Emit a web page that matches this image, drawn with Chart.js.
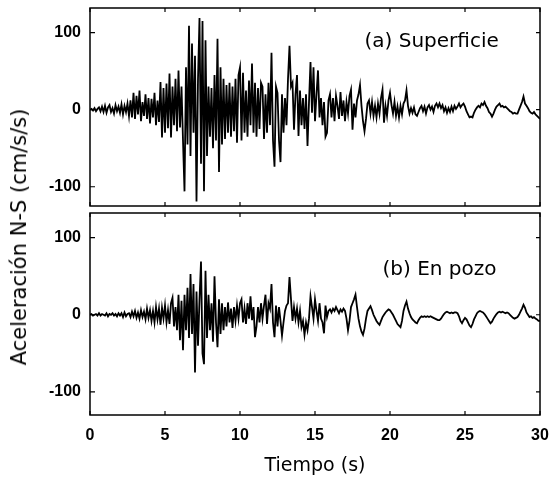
<!DOCTYPE html>
<html><head><meta charset="utf-8">
<script src="https://cdn.jsdelivr.net/npm/chart.js@4/dist/chart.umd.min.js"></script>
<style>
html,body{margin:0;padding:0;background:#fff;}
#wrap{position:relative;width:556px;height:486px;overflow:hidden;background:#fff;}
#boxA{position:absolute;left:0;top:0;width:556px;height:210px;}
#boxB{position:absolute;left:0;top:210px;width:556px;height:276px;}
#ytitle{position:absolute;left:19px;top:237px;transform:translate(-50%,-50%) rotate(-90deg);white-space:nowrap;font:21px "DejaVu Sans",sans-serif;color:#000;}
</style></head><body>
<div id="wrap">
<div id="boxA"><canvas id="cA"></canvas></div>
<div id="boxB"><canvas id="cB"></canvas></div>
<div id="ytitle">Aceleración N-S (cm/s/s)</div>
</div>
<script>
const DT = 0.1; // sampling interval (s)
const X_TICKS = [0, 5, 10, 15, 20, 25, 30];
const Y_TICKS = [-100, 0, 100];
const LABEL_A = '(a) Superficie';
const LABEL_B = '(b) En pozo';
const X_TITLE = 'Tiempo (s)';

// (a) Superficie, cm/s/s, one row per second
const superficie = [
 0, 1, -1, 2, -2, 1, 3, -2, 4, -3,
 5, -4, 3, 6, -3, 2, -5, 6, -2, 4,
 -4, 7, -6, 5, -3, 8, -8, 12, -10, 22,
 -12, 18, -6, 25, -15, 10, -8, 20, -12, 15,
 -18, 14, -10, 22, -20, 12, -16, 36, -36, 28,
 -30, 34, -24, 47, -36, 30, -20, 40, -28, 51,
 -23, 30, -40, -106, 55, -45, 109, -60, 86, -30,
 70, -119, 40, 119, -70, 115, -106, 90, -60, 30,
 -35, 28, -50, 45, -40, 92, -81, 55, -45, 40,
 -38, 32, -30, 35, -35, 30, -28, 40, -43, 45,
 55, -40, 48, -30, 25, -35, 38, -20, 60, -30,
 35, -35, 28, -25, 35, 30, -38, 20, -30, 35,
 -20, 74, -40, -74, 30, 22, -40, -68, 20, -30,
 15, -20, 40, 83, 30, 35, -26, 20, 45, -34,
 25, -20, 15, -25, 20, -47, 10, 62, -4, 55,
 -15, 20, 51, -10, 15, -20, 10, -35, -30, 12,
 20, -10, 15, -15, 18, 5, -12, 23, -8, 12,
 -15, 10, -5, 18, 26, -26, 8, -10, 12, 20,
 32, 5, -15, -28, -12, 8, 12, -5, 10, -8,
 5, -10, 8, -5, 15, 26, -17, 5, -8, 12,
 22, 6, -5, 10, -8, 4, -10, 5, -6, 8,
 12, 25, 5, -5, 2, -4, 3, -6, -8, -3,
 2, 5, -2, 4, -5, 3, 6, 0, 4, -3,
 5, 8, 3, 8, 2, 6, -2, 3, -4, 2,
 -3, 4, -2, 5, 1, 4, 8, 3, 6, 8,
 4, -2, -6, -10, -9, -10, -4, 0, 3, 5,
 3, 8, 6, 10, 5, 2, -3, -5, -9, -5,
 0, 4, 6, 8, 4, 5, 3, 4, 2, 0,
 -2, -3, -5, -4, -5, -5, 0, 5, 10, 17,
 8, 5, 2, -2, -4, -5, -3, -6, -8, -10,
 -12
];

// (b) En pozo, cm/s/s, one row per second
const enPozo = [
 0, 1, -1, 0, 1, -1, 2, -1, 1, 0,
 -1, 2, -2, 1, 0, 2, -1, 1, -2, 2,
 -1, 2, -3, 3, -2, 1, 2, -3, 4, -2,
 5, -4, 3, -5, 6, -3, 4, -6, 8, -4,
 6, -8, 5, -10, 10, -6, 8, -13, 9, -5,
 12, -10, 6, -12, 15, 22, -15, 10, -20, 26,
 -33, 18, -46, 26, -20, 35, -30, 53, -25, 40,
 -75, 30, -40, 20, 69, -50, -64, 57, -30, 26,
 -20, 15, -35, 50, -10, -42, 20, -25, 15, -20,
 10, -15, 16, -10, 8, -17, 10, -8, 12, -5,
 15, 20, -10, 8, -12, 15, -5, 24, -7, 10,
 -29, -15, 10, -10, 15, -5, 12, 26, -12, 15,
 8, 40, -10, -29, 12, -15, 10, -8, -27, -10,
 5, 12, 15, 49, 20, -8, 10, -5, 8, -10,
 5, -16, -8, -26, -10, -20, -5, 24, 10, -5,
 20, 5, -8, 15, -5, -10, -24, 12, -3, 5,
 7, 3, 8, 5, 10, 6, 2, 7, 4, 8,
 5, -5, -20, -8, 10, 15, 20, 26, 10, -5,
 -15, -22, -26, -18, -5, 5, 8, 11, 6, 0,
 -4, -8, -11, -13, -8, -3, 0, 3, 5, 7,
 6, 3, 0, -4, -8, -12, -14, -16, -8, 5,
 12, 17, 8, 2, -3, -6, -8, -10, -11, -7,
 -4, -2, -3, -2, -3, -2, -3, -2, -3, -4,
 -5, -6, -7, -7, -5, -2, 1, 3, 4, 3,
 2, 3, 2, 3, 3, 2, -2, -8, -11, -7,
 -4, -6, -10, -14, -16, -12, -6, -2, 2, 4,
 5, 4, 3, 1, -2, -5, -8, -11, -9, -5,
 -2, 1, 3, 4, 3, 4, 3, 2, 3, 2,
 0, -2, -4, -5, -4, -3, 0, 4, 8, 13,
 9, 3, 0, -3, -2, -4, -3, -5, -6, -8,
 -8
];

const toPoints = arr => arr.map((v, i) => ({x: +(i * DT).toFixed(2), y: v}));

const FONT = '"DejaVu Sans", sans-serif';
const TICK_FONT = '"Liberation Sans Narrow", "Liberation Sans", Arial, sans-serif';

const framePlugin = {
  id: 'frame',
  afterDraw(chart, args, opts) {
    const {ctx, chartArea: a, scales: {x, y}} = chart;
    ctx.save();
    ctx.strokeStyle = '#000';
    ctx.lineWidth = 1.5;
    ctx.strokeRect(a.left, a.top, a.right - a.left, a.bottom - a.top);
    ctx.lineWidth = 1.2;
    ctx.beginPath();
    X_TICKS.forEach(v => {
      const px = x.getPixelForValue(v);
      ctx.moveTo(px, a.bottom); ctx.lineTo(px, a.bottom - 4);
      ctx.moveTo(px, a.top); ctx.lineTo(px, a.top + 4);
    });
    Y_TICKS.forEach(v => {
      const py = y.getPixelForValue(v);
      ctx.moveTo(a.left, py); ctx.lineTo(a.left + 5, py);
      ctx.moveTo(a.right, py); ctx.lineTo(a.right - 4, py);
    });
    ctx.stroke();
    ctx.font = '20px ' + FONT;
    ctx.fillStyle = '#000';
    ctx.textAlign = 'left';
    ctx.textBaseline = 'middle';
    ctx.fillText(opts.text, x.getPixelForValue(opts.tx), y.getPixelForValue(opts.ty));
    ctx.restore();
  }
};

function makeChart(id, data, yMin, yMax, showX, label, tx, ty, padTop, padBottom) {
  return new Chart(document.getElementById(id), {
    type: 'line',
    data: {datasets: [{
      data: toPoints(data),
      borderColor: '#000',
      borderWidth: 1.8,
      pointRadius: 0,
      tension: 0,
      fill: false
    }]},
    options: {
      responsive: true,
      maintainAspectRatio: false,
      animation: false,
      devicePixelRatio: 1,
      layout: {padding: {left: 0, right: 16, top: padTop, bottom: padBottom}},
      plugins: {
        legend: {display: false},
        tooltip: {enabled: false},
        frame: {text: label, tx: tx, ty: ty}
      },
      scales: {
        x: {
          type: 'linear', min: 0, max: 30,
          afterBuildTicks: s => { s.ticks = X_TICKS.map(v => ({value: v})); },
          afterFit: s => { s.height = showX ? 71 : 0; s.paddingLeft = 0; s.paddingRight = 0; s.paddingTop = 0; s.paddingBottom = 0; },
          grid: {display: false, drawTicks: false, tickLength: 0},
          border: {display: false},
          ticks: {display: showX, padding: 11, color: '#000',
                  font: {family: TICK_FONT, size: 16, weight: 'bold'}},
          title: {display: showX, text: X_TITLE, color: '#000',
                  font: {family: FONT, size: 19}, padding: {top: 0, bottom: 9}}
        },
        y: {
          type: 'linear', min: yMin, max: yMax,
          afterBuildTicks: s => { s.ticks = Y_TICKS.map(v => ({value: v})); },
          afterFit: s => { s.width = 90; s.paddingTop = 0; s.paddingBottom = 0; s.paddingLeft = 0; s.paddingRight = 0; },
          grid: {display: false, drawTicks: false, tickLength: 0},
          border: {display: false},
          ticks: {padding: 9, color: '#000', font: {family: TICK_FONT, size: 16, weight: 'bold'}}
        }
      }
    },
    plugins: [framePlugin]
  });
}

makeChart('cA', superficie, -125, 132, false, LABEL_A, 18.3, 88, 8, 4);
makeChart('cB', enPozo, -130, 132, true, LABEL_B, 19.5, 58, 3, 0);
</script>
</body></html>
